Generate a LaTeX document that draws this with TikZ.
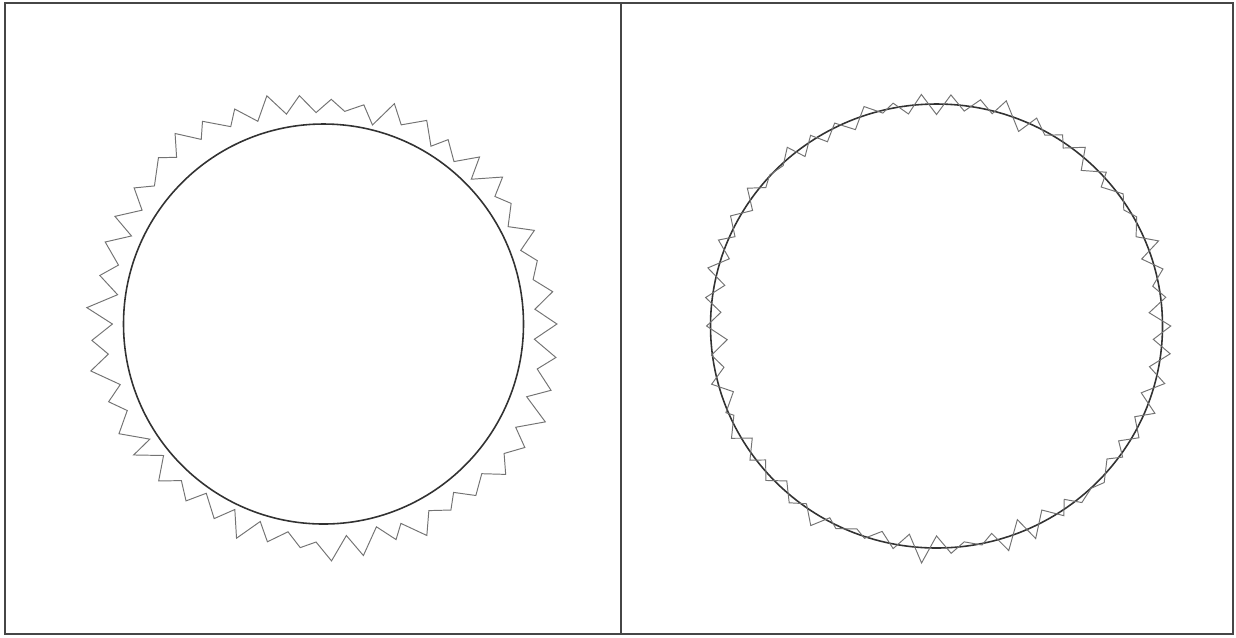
\documentclass[tikz,border=0pt]{standalone}
\usepackage{tikz}
\usetikzlibrary{calc}
\definecolor{FrameGray}{RGB}{70,70,70}
\definecolor{RingGray}{RGB}{50,50,50}
\definecolor{NoiseGray}{RGB}{115,115,115}
\begin{document}
\begin{tikzpicture}[
  x=0.02cm, y=-0.02cm,
  frame/.style={draw=FrameGray, line width=1.1pt},
  ring/.style={draw=RingGray, line width=0.9pt},
  noisy/.style={draw=NoiseGray, line width=0.55pt, line join=miter},
]
\useasboundingbox (0,0) rectangle (1236,637);
\pgfmathsetseed{4711}
%% Panels
\draw[frame] (5,3) rectangle (1233,634);
\draw[frame] (621,3) -- (621,634);
%% Left panel: noisy contour outside the circle
\coordinate (lc) at (323.5,324);
\draw[ring] (lc) circle [radius=200];
\begin{scope}[shift={(lc)}]
  \draw[noisy] plot[domain=0:89, samples=90]
    ({4*\x}:{222+4*sin(8*\x+30)+2*sin(20*\x)
      +15*(1-2*mod(\x,2))*(0.2+0.8*rnd)+4*(rnd-0.5)}) -- cycle;
\end{scope}
%% Right panel: noisy contour around the circle
\coordinate (rc) at (936.5,326);
\draw[ring] (rc) ellipse [x radius=226, y radius=222];
\begin{scope}[shift={(rc)}, yscale=222/226]
  \draw[noisy] plot[domain=0:99, samples=100]
    ({3.6*\x}:{226+14*(1-2*mod(\x,2))*(0.1+0.9*rnd)+6*(rnd-0.5)}) -- cycle;
\end{scope}
\end{tikzpicture}
\end{document}
